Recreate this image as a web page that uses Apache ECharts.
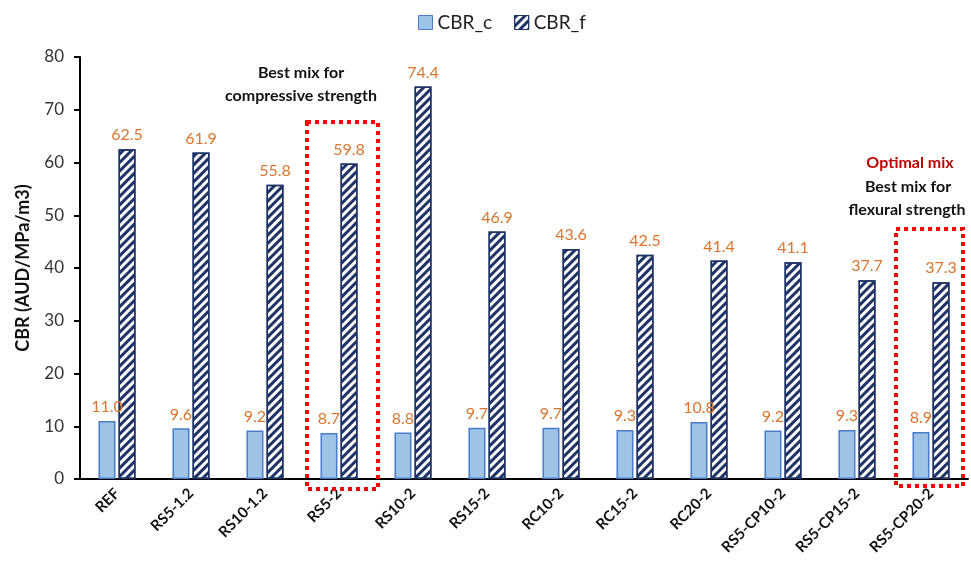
<!DOCTYPE html>
<html>
<head>
<meta charset="utf-8">
<script src="https://cdn.jsdelivr.net/npm/echarts@6/dist/echarts.min.js"></script>
<style>
  html, body { margin: 0; padding: 0; background: #fff; }
  #graph { width: 971px; height: 564px; }
</style>
</head>
<body>
<div id="graph"></div>
<script>
const categories = ['REF', 'RS5-1.2', 'RS10-1.2', 'RS5-2', 'RS10-2', 'RS15-2', 'RC10-2', 'RC15-2', 'RC20-2', 'RS5-CP10-2', 'RS5-CP15-2', 'RS5-CP20-2'];
const cbrC = [11.0, 9.6, 9.2, 8.7, 8.8, 9.7, 9.7, 9.3, 10.8, 9.2, 9.3, 8.9];
const cbrF = [62.5, 61.9, 55.8, 59.8, 74.4, 46.9, 43.6, 42.5, 41.4, 41.1, 37.7, 37.3];
const yTicks = [0, 10, 20, 30, 40, 50, 60, 70, 80];

const font = 'Lato';
const labelStyle = {
  show: true,
  position: 'top',
  distance: 6,
  color: '#D8752E',
  fontSize: 16,
  fontFamily: font,
  formatter: p => p.value.toFixed(1)
};
const noteStyle = (text, y, x, fill) => ({
  type: 'text', x: x, y: y, z: 100,
  style: { text: text, fontFamily: font, fontSize: 16, fontWeight: 'bold', fill: fill || '#111', align: 'center', verticalAlign: 'middle' }
});

var myChart = echarts.init(document.getElementById('graph'));
myChart.setOption({
  animation: false,
  textStyle: { fontFamily: font },
  legend: {
    top: 8,
    left: 413,
    icon: 'rect',
    itemWidth: 14,
    itemHeight: 14,
    itemGap: 22,
    itemStyle: { borderWidth: 1 },
    textStyle: { fontSize: 19, color: '#222', fontFamily: font },
    data: ['CBR_c', 'CBR_f']
  },
  grid: { top: 57, left: 80, right: 3, bottom: 85 },
  xAxis: {
    type: 'category',
    data: categories,
    axisLine: { lineStyle: { color: '#000', width: 2 } },
    axisTick: { show: false },
    axisLabel: {
      rotate: 45,
      interval: 0,
      fontWeight: 'bold',
      fontSize: 15,
      color: '#111',
      fontFamily: font,
      margin: 12
    }
  },
  yAxis: {
    type: 'value',
    min: 0,
    max: 80,
    interval: 10,
    name: 'CBR (AUD/MPa/m3)',
    nameLocation: 'middle',
    nameGap: 48,
    nameTextStyle: { fontWeight: 'bold', fontSize: 18, color: '#111', fontFamily: font },
    axisLine: { show: true, lineStyle: { color: '#000', width: 2 } },
    axisTick: { show: true, length: 6, lineStyle: { color: '#000', width: 2 } },
    splitLine: { show: false },
    axisLabel: {
      fontSize: 17,
      color: '#333',
      fontFamily: font,
      margin: 16,
      formatter: v => yTicks.includes(v) ? String(v) : ''
    }
  },
  series: [
    {
      name: 'CBR_c',
      type: 'bar',
      data: cbrC,
      barWidth: 17,
      barGap: '18%',
      itemStyle: { color: '#9DC3E6', borderColor: '#4A7CC9', borderWidth: 1.5 },
      label: labelStyle
    },
    {
      name: 'CBR_f',
      type: 'bar',
      data: cbrF,
      barWidth: 17,
      itemStyle: {
        color: '#ffffff',
        borderColor: '#1F3366',
        borderWidth: 1.5,
        decal: {
          symbol: 'rect',
          symbolSize: 1,
          dashArrayX: [1, 0],
          dashArrayY: [3, 3],
          rotation: -Math.PI / 4,
          color: '#1F3366'
        }
      },
      label: labelStyle
    }
  ],
  graphic: [
    { type: 'rect', z: 100, shape: { x: 307, y: 122, width: 71, height: 367 },
      style: { fill: 'none', stroke: '#FF0000', lineWidth: 4, lineDash: [4, 4] } },
    { type: 'rect', z: 100, shape: { x: 896, y: 229, width: 67, height: 257 },
      style: { fill: 'none', stroke: '#FF0000', lineWidth: 4, lineDash: [4, 4] } },
    noteStyle('Best mix for', 73, 301),
    noteStyle('compressive strength', 96, 301),
    noteStyle('Optimal mix', 163, 910, '#C00000'),
    noteStyle('Best mix for', 187, 908),
    noteStyle('flexural strength', 210, 907)
  ]
});
</script>
</body>
</html>
